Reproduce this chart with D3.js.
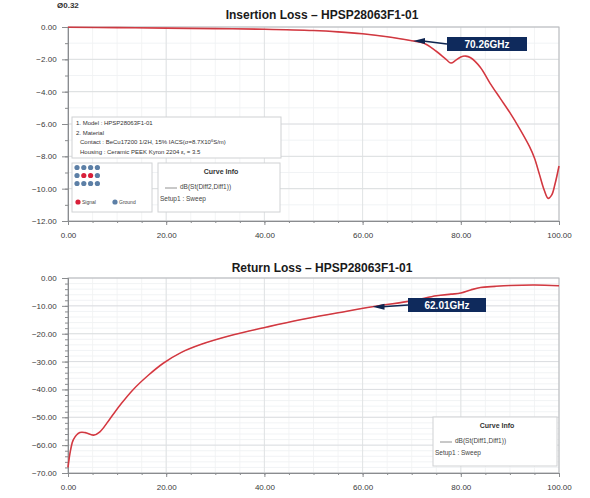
<!DOCTYPE html>
<html>
<head>
<meta charset="utf-8">
<script src="https://cdn.jsdelivr.net/npm/d3@7"></script>
<style>
  body { margin:0; background:#fff; }
  svg { display:block; font-family:"Liberation Sans", Arial, sans-serif; }
</style>
</head>
<body>
<svg id="chart" width="590" height="498"></svg>
<script>
// insertion loss, dB(St(Diff2,Diff1))
var ilFreq = [0, 10, 20, 30, 40, 50, 55, 60, 65, 70, 72.5, 75, 77, 78, 79, 80, 81, 82, 84, 86, 88, 90, 92, 94, 95, 96, 97, 97.8, 98.5, 99.2, 100]
  , ilDb   = [-0.02, -0.04, -0.07, -0.1, -0.14, -0.22, -0.3, -0.42, -0.6, -0.85, -1.0, -1.5, -2.0, -2.23, -2.05, -1.85, -1.8, -1.9, -2.5, -3.5, -4.4, -5.3, -6.3, -7.4, -8.1, -9.1, -10.1, -10.6, -10.4, -9.7, -8.6]
// return loss, dB(St(Diff1,Diff1))
  , rlFreq = [0, 0.5, 1.1, 2.4, 3.5, 5.2, 6.5, 8.6, 10.9, 13.3, 16.3, 19.4, 23, 27, 33.7, 40.5, 47.3, 55, 62, 70, 75, 78, 80, 82, 84, 87, 90, 95, 100]
  , rlDb   = [-68, -62, -58, -55.5, -55.5, -56.4, -55.2, -50.4, -45, -40, -35, -30.6, -26.8, -23.9, -20.4, -17.6, -15, -12.5, -10.3, -8.2, -6.4, -5.8, -5.4, -4.3, -3.4, -3.0, -2.7, -2.5, -2.8]
  , xTicks = [0, 20, 40, 60, 80, 100]
  , ilTicks = [0, -2, -4, -6, -8, -10, -12]
  , rlTicks = [0, -10, -20, -30, -40, -50, -60, -70]
  , ilMarker = 70.26
  , rlMarker = 62.01

var svg = d3.select('#chart')
var fmt = d3.format('.2f')

function drawPanel(o) {
  var x = d3.scaleLinear().domain([0, 100]).range([68, 559])
  var y = d3.scaleLinear().domain(o.yDomain).range(o.yRange)
  var g = svg.append('g')

  // minor grid
  g.append('g').selectAll('line.hm')
    .data(d3.range(o.yDomain[0], o.yDomain[1], o.yMinor))
    .enter().append('line')
      .attr('x1', x(0)).attr('x2', x(100))
      .attr('y1', function(d) { return y(d) }).attr('y2', function(d) { return y(d) })
      .attr('stroke', '#eef0f2').attr('stroke-width', 0.8)
  g.append('g').selectAll('line.vm')
    .data(d3.range(0, 100, 5))
    .enter().append('line')
      .attr('y1', y(o.yDomain[0])).attr('y2', y(o.yDomain[1]))
      .attr('x1', function(d) { return x(d) }).attr('x2', function(d) { return x(d) })
      .attr('stroke', '#f0f1f3').attr('stroke-width', 0.8)

  // major grid
  g.append('g').selectAll('line')
    .data(o.yTicks)
    .enter().append('line')
      .attr('x1', x(0)).attr('x2', x(100))
      .attr('y1', function(d) { return y(d) }).attr('y2', function(d) { return y(d) })
      .attr('stroke', '#d6d8db').attr('stroke-width', 0.8)
  g.append('g').selectAll('line')
    .data(xTicks)
    .enter().append('line')
      .attr('y1', y(o.yDomain[0])).attr('y2', y(o.yDomain[1]))
      .attr('x1', function(d) { return x(d) }).attr('x2', function(d) { return x(d) })
      .attr('stroke', '#dcdee0').attr('stroke-width', 0.8)

  // frame
  g.append('rect')
    .attr('x', x(0)).attr('y', y(o.yDomain[1]))
    .attr('width', x(100) - x(0)).attr('height', y(o.yDomain[0]) - y(o.yDomain[1]))
    .attr('fill', 'none').attr('stroke', '#b8babd').attr('stroke-width', 1)

  // axes
  var xAxis = d3.axisBottom(x).tickValues(xTicks).tickSize(4).tickFormat(fmt)
  var ax = g.append('g').attr('transform', 'translate(0,' + y(o.yDomain[0]) + ')').call(xAxis)
  ax.selectAll('text').attr('dy', '1.3em')
  g.append('g').attr('transform', 'translate(0,' + y(o.yDomain[0]) + ')')
    .call(d3.axisBottom(x).tickValues(d3.range(0, 101, 5)).tickSize(2).tickFormat(''))
  var yAxis = d3.axisLeft(y).tickValues(o.yTicks).tickSize(6).tickFormat(fmt)
  var ay = g.append('g').attr('transform', 'translate(' + x(0) + ',0)').call(yAxis)
  ay.selectAll('text').attr('dx', '-0.3em')
  g.append('g').attr('transform', 'translate(' + x(0) + ',0)')
    .call(d3.axisLeft(y).tickValues(d3.range(o.yDomain[0], o.yDomain[1] + 0.001, o.yMinor)).tickSize(3).tickFormat(''))

  g.selectAll('.domain').attr('stroke', '#8a8c8f')
  g.selectAll('.tick line').attr('stroke', '#8a8c8f')
  g.selectAll('.tick text').attr('font-size', 8).attr('fill', '#3a3a3a')
    .attr('font-family', '"Liberation Sans", Arial, sans-serif')

  // title
  g.append('text')
    .attr('x', 322).attr('y', o.titleY)
    .attr('text-anchor', 'middle').attr('font-size', 12).attr('font-weight', 'bold').attr('fill', '#1a1a1a')
    .text(o.title)

  // curve
  var line = d3.line()
    .x(function(d, i) { return x(o.freq[i]) })
    .y(function(d) { return y(d) })
    .curve(d3.curveCatmullRom.alpha(0.5))
  g.append('path').datum(o.db)
    .attr('d', line).attr('fill', 'none')
    .attr('stroke', '#e8404a').attr('stroke-width', 1.6)
  g.append('path').datum(o.db)
    .attr('d', line).attr('fill', 'none')
    .attr('stroke', '#7a2a2a').attr('stroke-width', 0.5).attr('opacity', 0.6)

  // marker
  var mv = d3.scaleLinear().domain(o.freq).range(o.db)(o.marker)
  var mx = x(o.marker), my = y(mv)
  var bx = o.box[0], by = o.box[1], bw = o.box[2], bh = 14
  g.append('path')
    .attr('d', 'M' + mx + ',' + my + 'L' + (mx + 12) + ',' + (my - 3) + 'L' + (mx + 12) + ',' + (my + 3) + 'Z')
    .attr('fill', '#0f2550')
  g.append('line')
    .attr('x1', mx + 10).attr('y1', my).attr('x2', bx).attr('y2', by + bh / 2)
    .attr('stroke', '#0f2550').attr('stroke-width', 1.5)
  g.append('rect')
    .attr('x', bx).attr('y', by).attr('width', bw).attr('height', bh)
    .attr('fill', '#0f2a5c')
  g.append('text')
    .attr('x', bx + bw / 2).attr('y', by + 10.5)
    .attr('text-anchor', 'middle').attr('font-size', 10).attr('font-weight', 'bold').attr('fill', '#fff')
    .text(o.marker.toFixed(2) + 'GHz')

  // curve info box
  var c = o.info
  var ig = g.append('g').attr('transform', 'translate(' + c[0] + ',' + c[1] + ')')
  ig.append('rect').attr('width', c[2]).attr('height', 49)
    .attr('fill', '#fff').attr('stroke', '#d0d2d4').attr('stroke-width', 1)
  ig.append('text').attr('x', c[2] / 2 + 2).attr('y', 11)
    .attr('text-anchor', 'middle').attr('font-size', 7).attr('font-weight', 'bold').attr('fill', '#333')
    .text('Curve Info')
  ig.append('line').attr('x1', 7).attr('x2', 19).attr('y1', 25).attr('y2', 25)
    .attr('stroke', '#777').attr('stroke-width', 0.8)
  ig.append('text').attr('x', 22).attr('y', 26)
    .attr('font-size', 6.5).attr('fill', '#444').text(o.curveName)
  ig.append('text').attr('x', 2).attr('y', 38)
    .attr('font-size', 6.5).attr('fill', '#444').text('Setup1 : Sweep')
  return g
}

drawPanel({
  title: 'Insertion Loss \u2013 HPSP28063F1-01', titleY: 19,
  yDomain: [-12, 0], yRange: [221, 27], yTicks: ilTicks, yMinor: 1,
  freq: ilFreq, db: ilDb, marker: ilMarker, box: [447, 37, 80],
  info: [158, 163, 122], curveName: 'dB(St(Diff2,Diff1))'
})
drawPanel({
  title: 'Return Loss \u2013 HPSP28063F1-01', titleY: 272,
  yDomain: [-70, 0], yRange: [473, 278], yTicks: rlTicks, yMinor: 2,
  freq: rlFreq, db: rlDb, marker: rlMarker, box: [408, 298, 78],
  info: [433, 417, 124], curveName: 'dB(St(Diff1,Diff1))'
})

// clipped label at very top
svg.append('text').attr('x', 57).attr('y', 8)
  .attr('font-size', 8).attr('font-weight', 'bold').attr('fill', '#333').text('\u00d80.32')

// spec box
var sb = svg.append('g').attr('transform', 'translate(72,117)')
sb.append('rect').attr('width', 209).attr('height', 41)
  .attr('fill', '#fff').attr('stroke', '#cfd1d3')
var specLines = ['1. Model : HPSP28063F1-01', '2. Material']
specLines.forEach(function(t, i) {
  sb.append('text').attr('x', 4).attr('y', 8 + i * 9.5)
    .attr('font-size', 6).attr('fill', '#333').text(t)
})
var t1 = sb.append('text').attr('x', 8).attr('y', 27).attr('font-size', 6).attr('fill', '#333')
t1.append('tspan').text('Contact : BeCu17200 1/2H, 15% IACS(\u03c3=8.7X10')
t1.append('tspan').attr('font-size', 4).attr('dy', -2).text('6')
t1.append('tspan').attr('dy', 2).text('S/m)')
var t2 = sb.append('text').attr('x', 8).attr('y', 36.5).attr('font-size', 6).attr('fill', '#333')
t2.append('tspan').text('Housing : Ceramic PEEK Kyron 2204 \u03b5')
t2.append('tspan').attr('font-size', 4).attr('dy', 1.5).text('r')
t2.append('tspan').attr('dy', -1.5).text(' = 3.5')

// pin map
var pinRows = [['G', 'G', 'G', 'G'], ['G', 'S', 'S', 'G'], ['G', 'G', 'G', 'G']]
var pinColor = { S: '#d8203a', G: '#5c7fa6' }
var pg = svg.append('g').attr('transform', 'translate(72,163)')
pg.append('rect').attr('width', 80).attr('height', 49)
  .attr('fill', '#fff').attr('stroke', '#d0d2d4')
pinRows.forEach(function(row, r) {
  pg.selectAll(null).data(row).enter().append('circle')
    .attr('cx', function(d, i) { return 5 + i * 6.8 })
    .attr('cy', 4.5 + r * 8)
    .attr('r', 2.6)
    .attr('fill', function(d) { return pinColor[d] })
})
var pinLegend = [['S', 'Signal', 6], ['G', 'Ground', 43]]
pinLegend.forEach(function(p) {
  pg.append('circle').attr('cx', p[2]).attr('cy', 39).attr('r', 2.6).attr('fill', pinColor[p[0]])
  pg.append('text').attr('x', p[2] + 4).attr('y', 41).attr('font-size', 5).attr('fill', '#444').text(p[1])
})
</script>
</body>
</html>
